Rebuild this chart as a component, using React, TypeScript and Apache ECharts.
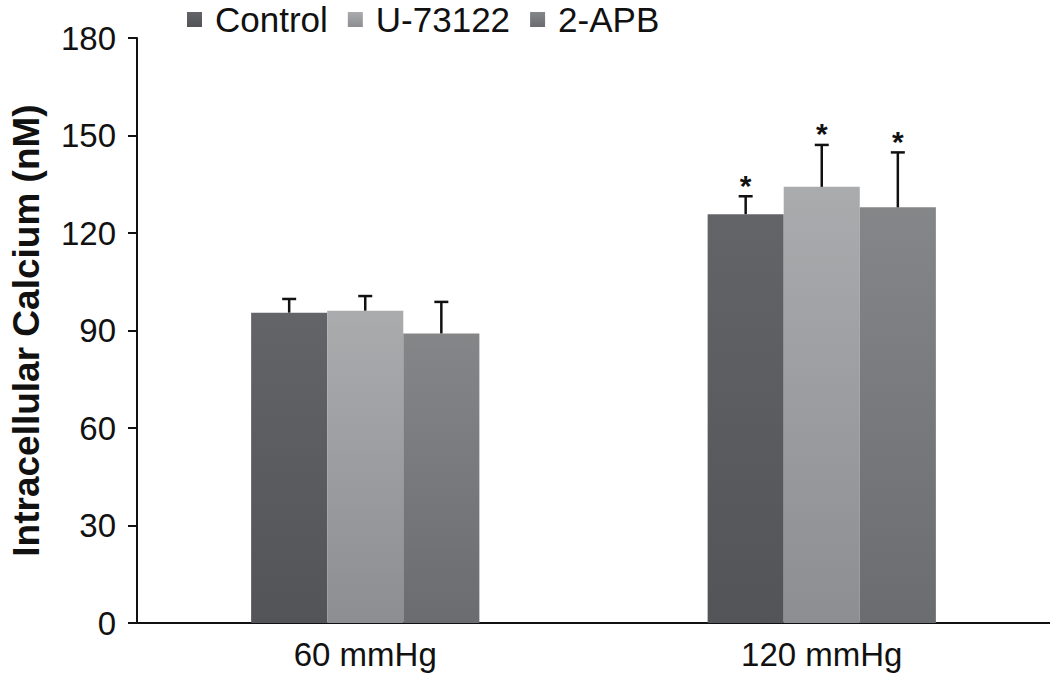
import React, { useEffect, useRef } from "react";
import * as echarts from "echarts";

const categories = ["60 mmHg", "120 mmHg"];
const seriesNames = ["Control", "U-73122", "2-APB"];
const controlValues = [95.5, 125.8];
const u73122Values = [96.1, 134.2];
const apbValues = [89.1, 127.9];
const controlErrors = [4.2, 5.5];
const u73122Errors = [4.5, 12.9];
const apbErrors = [9.7, 16.9];
const significant = [false, true];
const yTicks = [0, 30, 60, 90, 120, 150, 180];

const FONT = "Liberation Sans, Arial, Helvetica, sans-serif";

const grad = (top: string, bottom: string) =>
  new echarts.graphic.LinearGradient(0, 0, 0, 1, [
    { offset: 0, color: top },
    { offset: 1, color: bottom },
  ]);

export default function App() {
  const ref = useRef<HTMLDivElement>(null);
  useEffect(() => {
    if (!ref.current) return;
    const chart = echarts.init(ref.current, undefined, { renderer: "svg" });
    const values = [controlValues, u73122Values, apbValues];
    const errors = [controlErrors, u73122Errors, apbErrors];
    const colors = [
      grad("#636467", "#535458"),
      grad("#aaabad", "#8d8e91"),
      grad("#858688", "#6b6c70"),
    ];
    const errData: any[] = [];
    for (let s = 0; s < 3; s++) {
      for (let c = 0; c < categories.length; c++) {
        errData.push([c, s, values[s][c], errors[s][c], significant[c] ? 1 : 0]);
      }
    }
    chart.setOption({
      animation: false,
      backgroundColor: "#ffffff",
      legend: {
        top: -3,
        left: 182,
        icon: "path://M0 0H10V10H0Z",
        itemWidth: 31,
        itemHeight: 15,
        itemGap: 20,
        textStyle: { fontSize: 35, color: "#111", fontFamily: FONT },
        data: seriesNames,
      },
      grid: { left: 132, right: 0, top: 38, bottom: 54, containLabel: false },
      xAxis: {
        type: "category",
        data: categories,
        axisLine: { lineStyle: { color: "#111", width: 2 } },
        axisTick: { show: false },
        axisLabel: { fontSize: 33, color: "#111", fontFamily: FONT, margin: 15 },
      },
      yAxis: {
        type: "value",
        min: 0,
        max: 180,
        interval: 30,
        name: "Intracellular Calcium (nM)",
        nameLocation: "middle",
        nameGap: 92,
        nameTextStyle: { fontSize: 37, fontWeight: "bold", color: "#111", fontFamily: FONT },
        axisLine: { show: true, lineStyle: { color: "#111", width: 2 } },
        axisTick: { show: true, length: 9, lineStyle: { color: "#111", width: 2 } },
        axisLabel: {
          fontSize: 33,
          color: "#111",
          fontFamily: FONT,
          margin: 21,
          formatter: (v: number) => (yTicks.includes(v) ? String(v) : ""),
        },
        splitLine: { show: false },
      },
      series: [
        ...seriesNames.map((name, i) => ({
          name,
          type: "bar",
          data: values[i],
          barGap: "0%",
          barCategoryGap: "50%",
          itemStyle: { color: colors[i] },
          z: 2,
        })),
        {
          type: "custom",
          data: errData,
          z: 5,
          renderItem: (params: any, api: any) => {
            const c = api.value(0);
            const s = api.value(1);
            const mean = api.value(2);
            const err = api.value(3);
            const star = api.value(4);
            const band = api.size([1, 0])[0];
            const bw = (band * 0.5) / 3;
            const base = api.coord([c, mean]);
            const x = base[0] + (s - 1) * bw;
            const y0 = base[1];
            const y1 = api.coord([c, mean + err])[1];
            const children: any[] = [
              { type: "line", shape: { x1: x, y1: y0, x2: x, y2: y1 }, style: { stroke: "#111", lineWidth: 2.5 } },
              { type: "line", shape: { x1: x - 7, y1: y1, x2: x + 7, y2: y1 }, style: { stroke: "#111", lineWidth: 2.5 } },
            ];
            if (star) {
              children.push({
                type: "text",
                style: {
                  x: x,
                  y: y1 + 4,
                  text: "*",
                  fontSize: 30,
                  fontWeight: "bold",
                  fontFamily: FONT,
                  fill: "#111",
                  align: "center",
                  verticalAlign: "bottom",
                },
              });
            }
            return { type: "group", children };
          },
        },
      ],
    });
    return () => chart.dispose();
  }, []);
  return (
    <div
      ref={ref}
      style={{ position: "fixed", left: 0, top: 0, width: 1050, height: 677, background: "#fff" }}
    />
  );
}
